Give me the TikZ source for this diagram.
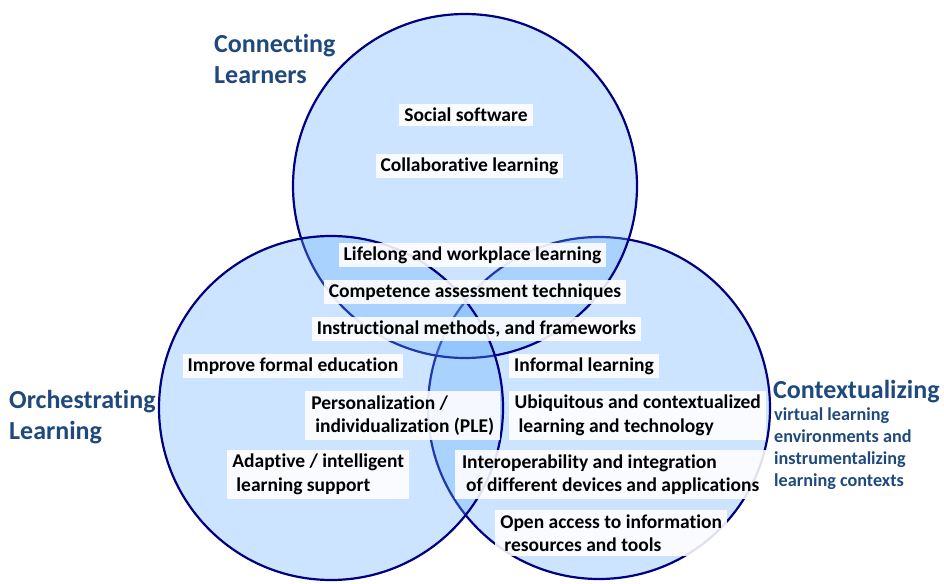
\documentclass[tikz,border=0pt]{standalone}
\usepackage{fontspec}
\setmainfont[Ligatures=NoCommon]{Carlito}
\definecolor{circfill}{RGB}{100,173,255}
\definecolor{circline}{RGB}{0,0,128}
\definecolor{titleblue}{RGB}{31,73,125}
\tikzset{
  venn/.style={fill=circfill, fill opacity=0.33, draw=circline, draw opacity=1, line width=2.2pt},
  item/.style={fill=white, fill opacity=0.88, text opacity=1, inner xsep=5pt, inner ysep=4pt,
    font=\bfseries\fontsize{19.5}{23.5}\selectfont, text=black},
  itemml/.style={item, align=left, anchor=west},
  title/.style={font=\bfseries\fontsize{26}{31}\selectfont, text=titleblue, align=left, anchor=west, inner sep=0pt},
  subtitle/.style={font=\bfseries\fontsize{18.2}{21.7}\selectfont, text=titleblue, align=left, anchor=north west, inner sep=0pt}
}
\begin{document}
\begin{tikzpicture}[x=1pt,y=-1pt]
\useasboundingbox (0,0) rectangle (944,583);
% circles (order: right, top, left)
\path[venn] (599,408) circle[radius=171];
\path[venn] (465,186) circle[radius=172];
\path[venn] (331,408) circle[radius=172];
% titles
\node[title] (tC) at (214,59) {Connecting\\Learners};
\node[title] (tO) at (9,417) {Orchestrating\\Learning};
\node[title] (tX) at (773,392) {Contextualizing};
\node[subtitle] (tXs) at (774,408) {virtual learning\\environments and\\instrumentalizing\\learning contexts};
% items
\node[item] (i1) at (466,115) {Social software};
\node[item] (i2) at (469.5,166) {Collaborative learning};
\node[item] (i3) at (472.5,255) {Lifelong and workplace learning};
\node[item] (i4) at (475,292) {Competence assessment techniques};
\node[item] (i5) at (476.5,329) {Instructional methods, and frameworks};
\node[item] (i6) at (293,366) {Improve formal education};
\node[item] (i7) at (584,366) {Informal learning};
\node[itemml, minimum width=195pt] (i8) at (305,415.5) {Personalization /\\\hspace{4pt}individualization (PLE)};
\node[itemml, minimum width=257pt] (i9) at (509,415.5) {Ubiquitous and contextualized\\\hspace{4pt}learning and technology};
\node[itemml, minimum width=182pt] (i10) at (227,474.5) {Adaptive / intelligent\\\hspace{4pt}learning support};
\node[itemml, minimum width=311pt] (i11) at (455,474.5) {Interoperability and integration\\\hspace{4pt}of different devices and applications};
\node[itemml, minimum width=232pt] (i12) at (495,533) {Open access to information\\\hspace{4pt}resources and tools};
\end{tikzpicture}
\end{document}
